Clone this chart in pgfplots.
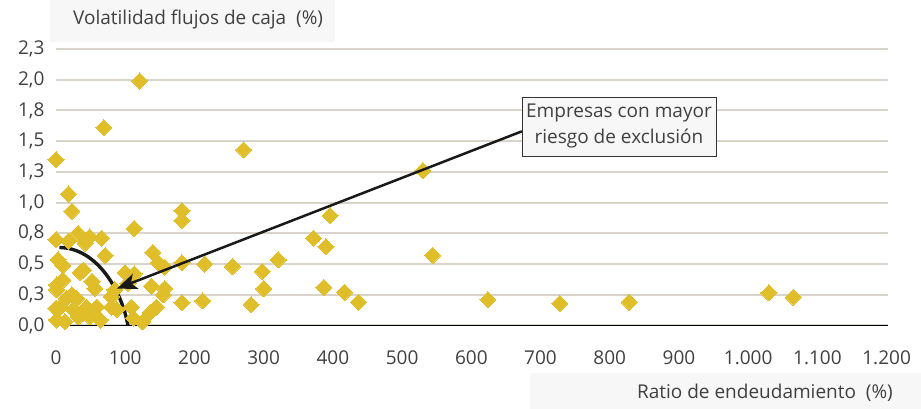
\documentclass[border=0pt]{standalone}
\usepackage{pgfplots}
\pgfplotsset{compat=1.18}
\usepackage{fontspec}
\setmainfont{Open Sans}
\usetikzlibrary{arrows.meta}
\definecolor{markc}{RGB}{224,190,42}
\definecolor{gridc}{RGB}{216,212,203}
\definecolor{txt}{RGB}{64,64,64}
\definecolor{boxbg}{RGB}{246,247,246}
\newcommand{\lbl}{\fontsize{19}{23}\selectfont}

\begin{document}
\begin{tikzpicture}
\useasboundingbox (0,0) rectangle (921pt,409pt);

% light backgrounds behind the axis titles
\fill[boxbg] (50pt,367pt) rectangle (335pt,409pt);
\fill[boxbg] (530pt,0pt) rectangle (921pt,36pt);
\node[anchor=west, text=txt, inner sep=0pt, font=\lbl] at (73pt,389pt) {Volatilidad flujos de caja\ \ (\%)};
\node[anchor=east, text=txt, inner sep=0pt, font=\lbl] at (893pt,16pt) {Ratio de endeudamiento\ \ (\%)};

\begin{axis}[
  at={(56pt,83.5pt)}, anchor=south west,
  scale only axis, width=832pt, height=276.5pt,
  xmin=0, xmax=1202, ymin=0, ymax=2.25,
  clip=false,
  axis x line*=bottom,
  axis y line*=left,
  x axis line style={black, line width=0.8pt, -},
  y axis line style={draw=none},
  major tick length=0pt,
  xtick={0,100,200,300,400,500,600,700,800,900,1000,1100,1200},
  xticklabels={0,100,200,300,400,500,600,700,800,900,1.000,1.100,1.200},
  ytick={0,0.25,0.5,0.75,1,1.25,1.5,1.75,2,2.25},
  yticklabels={{0,0},{0,3},{0,5},{0,8},{1,0},{1,3},{1,5},{1,8},{2,0},{2,3}},
  ymajorgrids,
  grid style={gridc, line width=2pt},
  tick label style={font=\lbl, text=txt},
  xticklabel style={yshift=-22pt},
  yticklabel style={xshift=-8pt},
]
\addplot[only marks, mark=square*, mark size=5.7pt,
  mark options={rotate=45, fill=markc, draw=markc, line width=0pt}]
coordinates {
 (0,1.35) (69,1.61) (121,1.99) (271,1.43) (530,1.26)
 (18,1.07) (23,0.93) (182,0.935) (182,0.855) (396,0.895) (113,0.79)
 (372,0.71) (390,0.64) (544,0.57) (321,0.535) (255,0.48) (298,0.44)
 (215,0.50) (182,0.51) (140,0.595) (148,0.51) (157,0.475)
 (32,0.75) (0,0.70) (18,0.685) (49,0.72) (66,0.71) (42,0.67)
 (3,0.535) (10,0.49) (71,0.57) (40,0.45) (35,0.43) (52,0.36)
 (56,0.30) (1,0.33) (10,0.37) (1,0.29) (23,0.25) (15,0.22) (30,0.22)
 (0,0.14) (6,0.15) (25,0.13) (40,0.10) (59,0.15) (1,0.045) (13,0.03)
 (32,0.07) (49,0.07) (64,0.045) (80,0.235) (85,0.29) (88,0.13) (44,0.15)
 (100,0.43) (113,0.42) (104,0.345) (138,0.32) (157,0.30) (155,0.25)
 (182,0.185) (212,0.20) (145,0.15) (136,0.105) (109,0.15) (112,0.06)
 (125,0.03) (80,0.15)
 (300,0.30) (282,0.17) (387,0.31) (417,0.27) (437,0.19)
 (624,0.21) (728,0.18) (828,0.19) (1030,0.265) (1065,0.23)
};

% boundary of the high-risk zone
\draw[line width=3.4pt, black!90] (axis cs:5,0.635) .. controls (axis cs:60,0.63) and (axis cs:95,0.28) .. (axis cs:104,0);
\coordinate (from) at (axis cs:673,1.58);
\coordinate (tip) at (axis cs:88,0.30);
\end{axis}

% callout arrow
\draw[line width=2.5pt, black!90, -{Stealth[length=20pt,width=16pt,inset=5pt]}] (from) -- (tip);

% callout box
\node[draw=black!80, line width=0.8pt, fill=boxbg, text=txt, font=\lbl,
  minimum width=194pt, minimum height=59pt, inner sep=0pt,
  align=center, execute at begin node=\setlength{\baselineskip}{26pt}]
  at (619pt,282.5pt) {Empresas con mayor\\riesgo de exclusión};
\end{tikzpicture}
\end{document}
